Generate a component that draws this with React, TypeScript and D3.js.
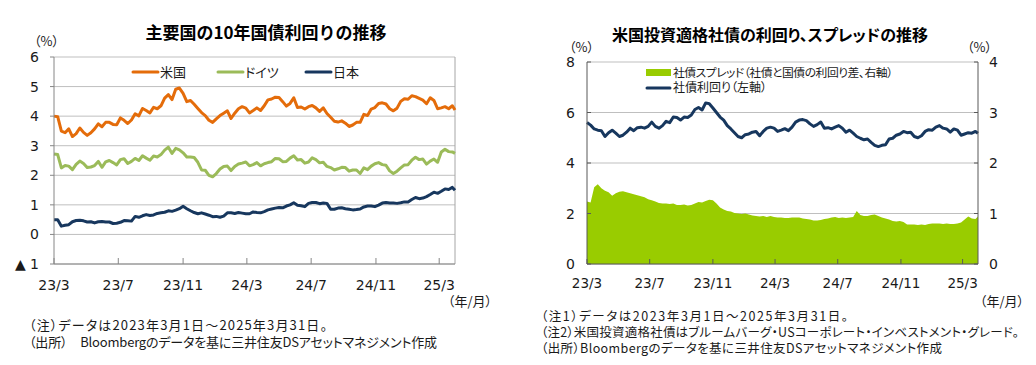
import React from "react";
import * as d3 from "d3";

// weekly readings, 2023/3/1 .. 2025/3/31 (last point = 3/31)
const startDate = new Date(2023, 2, 1);
const endDate = new Date(2025, 2, 31);

const us10y = [
  4.00, 3.98, 3.49, 3.44, 3.57, 3.31, 3.41, 3.60, 3.45, 3.35,
  3.44, 3.57, 3.74, 3.64, 3.79, 3.79, 3.72, 3.71, 3.94, 3.86,
  3.75, 3.87, 4.08, 4.01, 4.26, 4.19, 4.11, 4.30, 4.25, 4.35,
  4.61, 4.73, 4.56, 4.91, 4.95, 4.77, 4.49, 4.53, 4.40, 4.26,
  4.12, 4.02, 3.86, 3.79, 3.91, 4.02, 4.10, 4.18, 3.92, 4.10,
  4.25, 4.32, 4.27, 4.11, 4.19, 4.28, 4.19, 4.35, 4.55, 4.58,
  4.64, 4.63, 4.49, 4.34, 4.43, 4.62, 4.29, 4.31, 4.24, 4.32,
  4.36, 4.28, 4.16, 4.28, 4.09, 3.96, 3.83, 3.80, 3.84, 3.76,
  3.65, 3.70, 3.79, 3.79, 4.06, 4.02, 4.24, 4.29, 4.43, 4.45,
  4.41, 4.25, 4.18, 4.27, 4.50, 4.59, 4.57, 4.69, 4.66, 4.60,
  4.54, 4.42, 4.62, 4.53, 4.25, 4.28, 4.32, 4.25, 4.35, 4.21,
];

const de10y = [
  2.72, 2.70, 2.25, 2.33, 2.31, 2.19, 2.37, 2.48, 2.40, 2.26,
  2.28, 2.33, 2.47, 2.27, 2.45, 2.50, 2.43, 2.35, 2.53, 2.56,
  2.40, 2.47, 2.57, 2.50, 2.66, 2.58, 2.51, 2.65, 2.62, 2.70,
  2.85, 2.95, 2.74, 2.91, 2.86, 2.76, 2.62, 2.62, 2.60, 2.44,
  2.18, 2.17, 2.00, 1.95, 2.06, 2.21, 2.30, 2.31, 2.16, 2.30,
  2.38, 2.41, 2.45, 2.32, 2.36, 2.43, 2.32, 2.39, 2.43, 2.46,
  2.57, 2.56, 2.46, 2.47, 2.58, 2.66, 2.52, 2.53, 2.41, 2.45,
  2.59, 2.53, 2.42, 2.44, 2.30, 2.26, 2.18, 2.22, 2.27, 2.26,
  2.14, 2.18, 2.18, 2.06, 2.25, 2.19, 2.31, 2.39, 2.43, 2.36,
  2.34, 2.15, 2.06, 2.14, 2.25, 2.35, 2.36, 2.51, 2.61, 2.53,
  2.55, 2.38, 2.48, 2.55, 2.44, 2.79, 2.88, 2.80, 2.79, 2.74,
];

const jp10y = [
  0.50, 0.50, 0.28, 0.31, 0.33, 0.43, 0.47, 0.48, 0.46, 0.42,
  0.43, 0.39, 0.43, 0.44, 0.42, 0.42, 0.37, 0.38, 0.41, 0.47,
  0.46, 0.45, 0.61, 0.58, 0.63, 0.67, 0.64, 0.66, 0.71, 0.73,
  0.75, 0.80, 0.78, 0.82, 0.87, 0.95, 0.87, 0.80, 0.74, 0.70,
  0.73, 0.69, 0.65, 0.60, 0.61, 0.58, 0.62, 0.73, 0.73, 0.71,
  0.74, 0.72, 0.70, 0.70, 0.76, 0.74, 0.73, 0.77, 0.83, 0.86,
  0.89, 0.91, 0.90, 0.96, 1.00, 1.07, 0.99, 0.97, 0.94, 1.05,
  1.08, 1.08, 1.04, 1.06, 1.05, 0.85, 0.85, 0.89, 0.90, 0.87,
  0.85, 0.83, 0.84, 0.86, 0.93, 0.96, 0.96, 0.94, 0.99, 1.06,
  1.08, 1.06, 1.06, 1.05, 1.07, 1.10, 1.10, 1.18, 1.25, 1.21,
  1.23, 1.28, 1.35, 1.43, 1.39, 1.46, 1.54, 1.52, 1.59, 1.49,
];

const corpYield = [
  5.60, 5.50, 5.35, 5.30, 5.28, 5.05, 5.20, 5.30, 5.18, 5.05,
  5.10, 5.22, 5.38, 5.28, 5.40, 5.42, 5.38, 5.45, 5.62, 5.45,
  5.38, 5.48, 5.65, 5.60, 5.82, 5.80, 5.70, 5.82, 5.80, 5.90,
  6.12, 6.20, 6.10, 6.38, 6.35, 6.18, 6.00, 5.82, 5.70, 5.48,
  5.35, 5.20, 5.05, 5.00, 5.12, 5.15, 5.22, 5.25, 5.08, 5.25,
  5.38, 5.42, 5.38, 5.25, 5.30, 5.36, 5.28, 5.42, 5.62, 5.70,
  5.72, 5.68, 5.55, 5.45, 5.52, 5.62, 5.38, 5.40, 5.35, 5.42,
  5.48, 5.38, 5.22, 5.30, 5.18, 5.05, 4.98, 4.92, 4.95, 4.82,
  4.70, 4.65, 4.70, 4.72, 4.95, 4.98, 5.10, 5.15, 5.25, 5.20,
  5.22, 5.05, 5.00, 5.08, 5.25, 5.32, 5.30, 5.42, 5.48, 5.38,
  5.35, 5.22, 5.35, 5.30, 5.10, 5.15, 5.20, 5.18, 5.25, 5.18,
];

const corpSpread = [
  1.24, 1.22, 1.52, 1.58, 1.50, 1.45, 1.42, 1.35, 1.40, 1.43,
  1.44, 1.42, 1.40, 1.38, 1.36, 1.34, 1.32, 1.28, 1.26, 1.24,
  1.21, 1.20, 1.20, 1.19, 1.20, 1.17, 1.17, 1.18, 1.16, 1.17,
  1.20, 1.23, 1.22, 1.25, 1.27, 1.26, 1.20, 1.12, 1.08, 1.05,
  1.04, 1.01, 1.00, 0.99, 1.00, 0.98, 0.96, 0.95, 0.94, 0.95,
  0.93, 0.95, 0.93, 0.92, 0.92, 0.91, 0.91, 0.92, 0.92, 0.92,
  0.90, 0.89, 0.88, 0.86, 0.86, 0.87, 0.89, 0.90, 0.92, 0.93,
  0.91, 0.92, 0.91, 0.92, 0.93, 1.05, 0.97, 0.95, 0.95, 0.97,
  0.98, 0.95, 0.92, 0.90, 0.88, 0.85, 0.84, 0.85, 0.83, 0.78,
  0.78, 0.78, 0.77, 0.78, 0.77, 0.79, 0.80, 0.80, 0.80, 0.79,
  0.80, 0.79, 0.79, 0.80, 0.82, 0.88, 0.94, 0.90, 0.89, 0.94,
];

const monthTicks = ["23/3", "23/7", "23/11", "24/3", "24/7", "24/11", "25/3"];
const leftYTicks = [-1, 0, 1, 2, 3, 4, 5, 6];
const rightYTicksL = [0, 2, 4, 6, 8];
const rightYTicksR = [0, 1, 2, 3, 4];

const govNames = ["米国", "ドイツ", "日本"];
const corpNames = ["社債スプレッド（社債と国債の利回り差、右軸）", "社債利回り（左軸）"];

const leftNotes = [
  "（注）データは2023年3月1日～2025年3月31日。",
  "（出所）　Bloombergのデータを基に三井住友DSアセットマネジメント作成",
];
const rightNotes = [
  "（注1）データは2023年3月1日～2025年3月31日。",
  "（注2）米国投資適格社債はブルームバーグ・USコーポレート・インベストメント・グレード。",
  "（出所）Bloombergのデータを基に三井住友DSアセットマネジメント作成",
];

const ORANGE = "#E46C0A";
const OLIVE = "#9BBB59";
const NAVY = "#17375E";
const LIME = "#99CC00";
const GRID = "#BFBFBF";
const AXIS = "#868686";
const TXT = "#1a1a1a";

const JP = "'Noto Sans CJK JP', 'Noto Sans', sans-serif";
const NUM = "'DejaVu Sans', Verdana, sans-serif";
const palt = { fontFeatureSettings: '"palt"' };

// widths of the note lines as they appear in the reference
const leftNoteWidths = [298, 408];
const rightNoteWidths = [307, 478, 401];

const weekDates = d3.range(us10y.length).map((i) =>
  i < us10y.length - 1 ? d3.timeDay.offset(startDate, 7 * i) : endDate
);
const tickDate = (s: string) => {
  const [yy, mm] = s.split("/").map(Number);
  return new Date(2000 + yy, mm - 1, 1);
};

function GovChart() {
  const x = d3.scaleTime().domain([startDate, endDate]).range([54, 455]);
  const y = d3.scaleLinear().domain([-1, 6]).range([264, 57]);
  const line = d3
    .line<number>()
    .x((_, i) => x(weekDates[i]))
    .y((d) => y(d));
  const series = [
    { name: govNames[0], vals: us10y, color: ORANGE },
    { name: govNames[1], vals: de10y, color: OLIVE },
    { name: govNames[2], vals: jp10y, color: NAVY },
  ];
  const legendX = [133, 218, 306];

  return (
    <g>
      <text x={266} y={39} textAnchor="middle" fontFamily={JP} fontWeight="bold" fontSize={17} fill="#000">
        主要国の10年国債利回りの推移
      </text>
      <text x={34} y={46} fontFamily={JP} fontSize={13} fill={TXT} style={palt}>（%）</text>

      {leftYTicks.map((t) => (
        <g key={t}>
          <line x1={54} x2={455} y1={y(t)} y2={y(t)} stroke={GRID} />
          <line x1={50} x2={54} y1={y(t)} y2={y(t)} stroke={AXIS} />
          <text x={39} y={y(t)} dy="0.36em" textAnchor="end" fontFamily={NUM} fontSize={14} fill={TXT}>
            {t < 0 ? `▲ ${-t}` : t}
          </text>
        </g>
      ))}
      <line x1={455} x2={455} y1={57} y2={264} stroke="#A6A6A6" />

      {series.map((s) => (
        <path key={s.name} d={line(s.vals) ?? ""} fill="none" stroke={s.color} strokeWidth={3} strokeLinejoin="round" />
      ))}

      <line x1={54} x2={54} y1={57} y2={264} stroke={AXIS} />
      <line x1={54} x2={455} y1={264} y2={264} stroke={AXIS} />
      {monthTicks.map((m) => (
        <g key={m}>
          <line x1={x(tickDate(m))} x2={x(tickDate(m))} y1={258} y2={264} stroke={AXIS} />
          <text x={x(tickDate(m))} y={290} textAnchor="middle" fontFamily={NUM} fontSize={14} fill={TXT}>
            {m}
          </text>
        </g>
      ))}

      {series.map((s, i) => (
        <g key={s.name}>
          <line x1={legendX[i]} x2={legendX[i] + 25} y1={72} y2={72} stroke={s.color} strokeWidth={3} strokeLinecap="round" />
          <text x={legendX[i] + 27} y={72} dy="0.36em" fontFamily={JP} fontSize={13} fill={TXT} style={palt}>
            {s.name}
          </text>
        </g>
      ))}

      <text x={492} y={306} textAnchor="end" fontFamily={JP} fontSize={13} fill={TXT} style={palt}>（年/月）</text>
      {leftNotes.map((n, i) => (
        <text
          key={i}
          x={29}
          y={330 + i * 17}
          fontFamily={JP}
          fontSize={13}
          fill={TXT}
          style={palt}
          textLength={leftNoteWidths[i]}
          lengthAdjust="spacing"
        >
          {n}
        </text>
      ))}
    </g>
  );
}

function CorpChart() {
  const x = d3.scaleTime().domain([startDate, endDate]).range([587, 978]);
  const yL = d3.scaleLinear().domain([0, 8]).range([264, 62]);
  const yR = d3.scaleLinear().domain([0, 4]).range([264, 62]);
  const area = d3
    .area<number>()
    .x((_, i) => x(weekDates[i]))
    .y0(yR(0))
    .y1((d) => yR(d));
  const line = d3
    .line<number>()
    .x((_, i) => x(weekDates[i]))
    .y((d) => yL(d));
  const DARK = "#595959";

  return (
    <g>
      <text x={770} y={41} textAnchor="middle" fontFamily={JP} fontWeight="bold" fontSize={16} fill="#000" style={palt}>
        米国投資適格社債の利回り、スプレッドの推移
      </text>
      <text x={569} y={52} fontFamily={JP} fontSize={13} fill={TXT} style={palt}>（%）</text>
      <text x={967} y={52} fontFamily={JP} fontSize={13} fill={TXT} style={palt}>（%）</text>

      {rightYTicksL.map((t) => (
        <g key={t}>
          <line x1={587} x2={978} y1={yL(t)} y2={yL(t)} stroke={GRID} />
          <text x={575} y={yL(t)} dy="0.36em" textAnchor="end" fontFamily={NUM} fontSize={14} fill={TXT}>
            {t}
          </text>
        </g>
      ))}
      {rightYTicksR.map((t) => (
        <text key={t} x={989} y={yR(t)} dy="0.36em" fontFamily={NUM} fontSize={14} fill={TXT}>
          {t}
        </text>
      ))}

      <path d={area(corpSpread) ?? ""} fill={LIME} />
      <path d={line(corpYield) ?? ""} fill="none" stroke={NAVY} strokeWidth={3} strokeLinejoin="round" />

      <line x1={587} x2={587} y1={62} y2={264} stroke={DARK} />
      <line x1={978} x2={978} y1={62} y2={264} stroke={DARK} />
      <line x1={587} x2={978} y1={264} y2={264} stroke={DARK} />
      {rightYTicksL.map((t) => (
        <g key={t}>
          <line x1={587} x2={591} y1={yL(t)} y2={yL(t)} stroke={DARK} />
          <line x1={974} x2={978} y1={yL(t)} y2={yL(t)} stroke={DARK} />
        </g>
      ))}
      {monthTicks.map((m) => (
        <g key={m}>
          <line x1={x(tickDate(m))} x2={x(tickDate(m))} y1={259} y2={264} stroke={DARK} />
          <text x={x(tickDate(m))} y={288} textAnchor="middle" fontFamily={NUM} fontSize={13.5} fill={TXT}>
            {m}
          </text>
        </g>
      ))}

      <rect x={646} y={69} width={25} height={7} fill={LIME} />
      <text
        x={673}
        y={73}
        dy="0.36em"
        fontFamily={JP}
        fontSize={11.8}
        fill={TXT}
        style={palt}
        textLength={220}
        lengthAdjust="spacing"
      >
        {corpNames[0]}
      </text>
      <line x1={647} x2={670} y1={88} y2={88} stroke={NAVY} strokeWidth={3} strokeLinecap="round" />
      <text x={673} y={88} dy="0.36em" fontFamily={JP} fontSize={12} fill={TXT} style={palt}>
        {corpNames[1]}
      </text>

      <text x={1024} y={306} textAnchor="end" fontFamily={JP} fontSize={13} fill={TXT} style={palt}>（年/月）</text>
      {rightNotes.map((n, i) => (
        <text
          key={i}
          x={541}
          y={321 + i * 16}
          fontFamily={JP}
          fontSize={12.5}
          fill={TXT}
          style={palt}
          textLength={rightNoteWidths[i]}
          lengthAdjust="spacing"
        >
          {n}
        </text>
      ))}
    </g>
  );
}

export default function App() {
  return (
    <svg
      width={1036}
      height={365}
      style={{ position: "absolute", left: 0, top: 0, background: "#fff" }}
    >
      <rect width={1036} height={365} fill="#fff" />
      <GovChart />
      <CorpChart />
    </svg>
  );
}
